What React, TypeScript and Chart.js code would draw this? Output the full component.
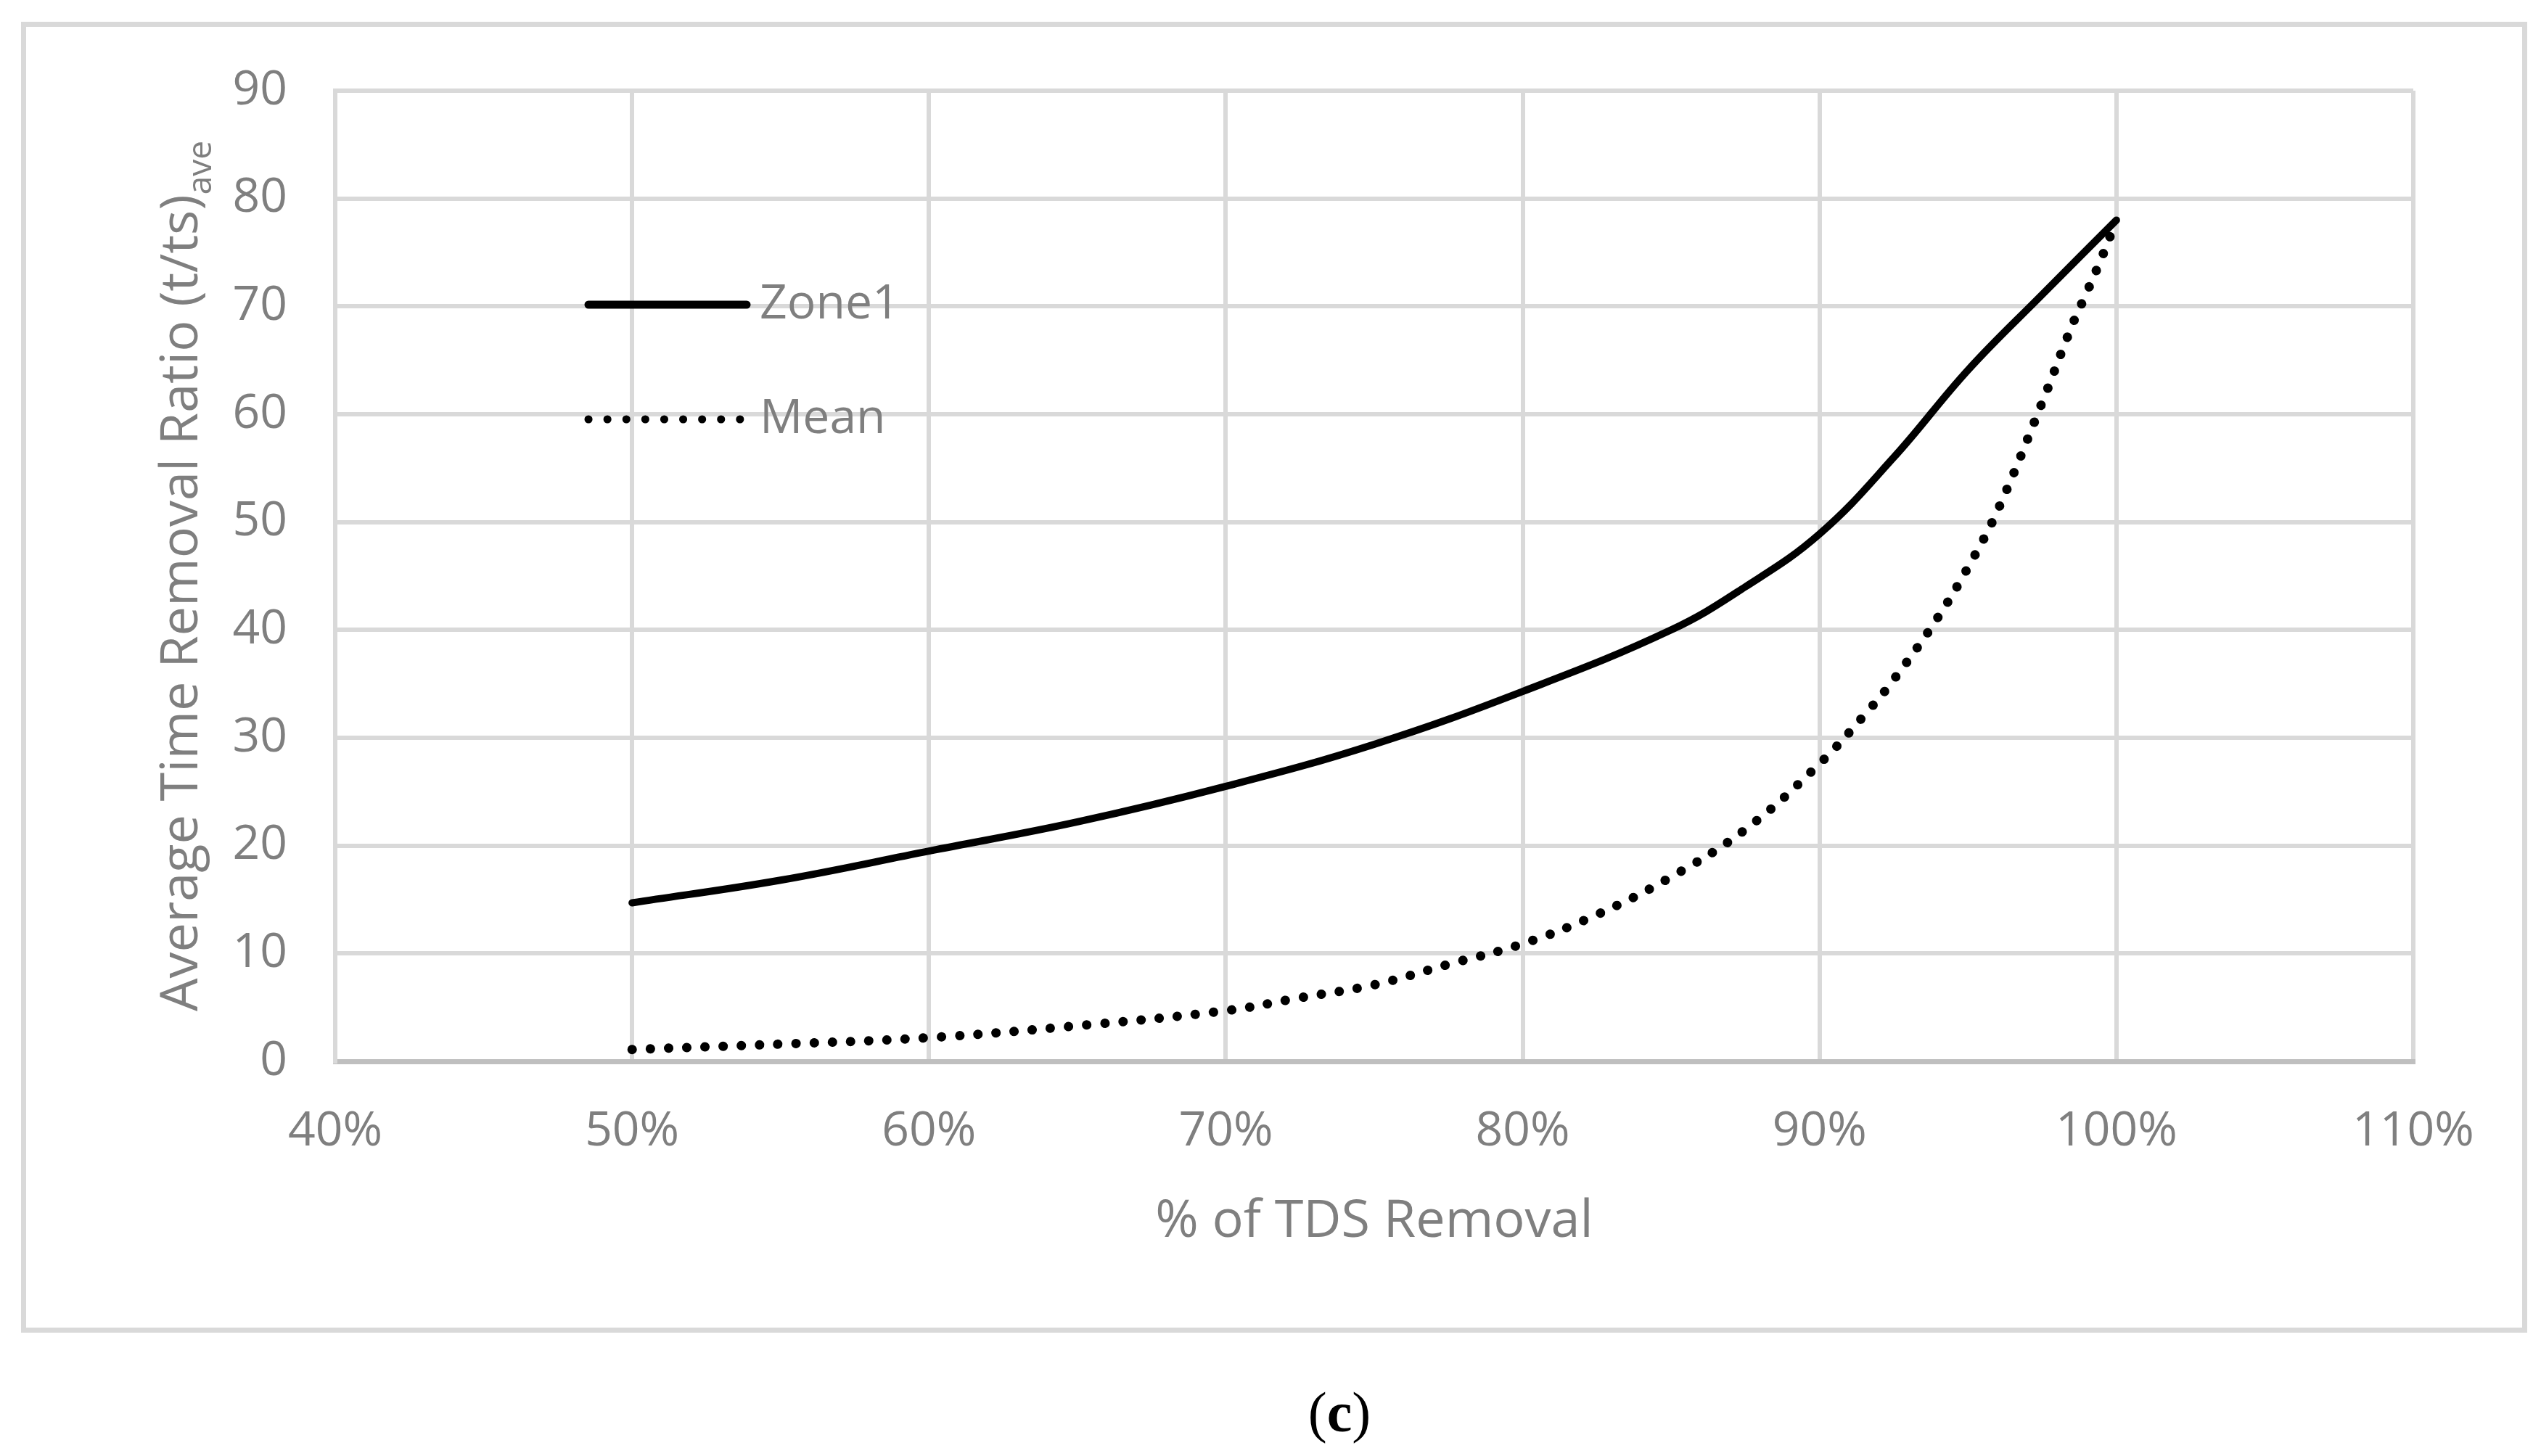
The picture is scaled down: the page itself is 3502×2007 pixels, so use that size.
import { useEffect, useRef } from "react";
import { Chart, registerables, type ChartConfiguration, type Plugin } from "chart.js";

Chart.register(...registerables);

// values (x in % of TDS removal)
const zoneX = [50, 55, 60, 65, 70, 75, 80, 85, 87.5, 90, 92.5, 95, 97.5, 100];
const zoneY = [14.7, 16.8, 19.5, 22.2, 25.5, 29.4, 34.3, 40.0, 44.0, 48.9, 56.0, 64.1, 71.1, 78.0];

const meanX = [50, 55, 60, 65, 70, 72.5, 75, 77.5, 80, 82.5, 85, 87.5, 90, 91.7, 92.5, 93.9, 95, 96, 97.5, 98.5, 99, 99.5, 100];
const meanY = [1.1, 1.6, 2.2, 3.3, 4.7, 5.9, 7.1, 9.0, 10.9, 13.6, 17.1, 21.5, 27.6, 32.7, 35.4, 40.8, 45.8, 51.1, 61.1, 68.2, 71.3, 74.5, 78.0];

const seriesLabels = ["Zone1", "Mean"];
const xTicks = [40, 50, 60, 70, 80, 90, 100, 110];
const yTicks = [0, 10, 20, 30, 40, 50, 60, 70, 80, 90];

const X_TITLE = "% of TDS Removal";
const Y_TITLE = "Average Time Removal Ratio (t/ts)";
const Y_TITLE_SUB = "ave";

const FONT = '"Open Sans", "Noto Sans", sans-serif';
const GRAY = "#7f7f7f";
const GRID = "#d9d9d9";
const AXIS = "#bfbfbf";

// axis titles (the y title carries a subscript, so both are drawn by hand)
const titlesPlugin: Plugin<"line"> = {
  id: "axisTitles",
  afterDraw(chart) {
    const { ctx, chartArea } = chart;
    ctx.save();
    ctx.fillStyle = GRAY;
    ctx.font = `72px ${FONT}`;
    ctx.textAlign = "center";
    ctx.textBaseline = "alphabetic";
    ctx.fillText(X_TITLE, (chartArea.left + chartArea.right) / 2, chartArea.bottom + 242);

    const mainW = ctx.measureText(Y_TITLE).width;
    ctx.font = `46px ${FONT}`;
    const subW = ctx.measureText(Y_TITLE_SUB).width;
    ctx.translate(chartArea.left - 190, (chartArea.top + chartArea.bottom) / 2);
    ctx.rotate(-Math.PI / 2);
    ctx.textAlign = "left";
    const start = -(mainW + subW) / 2;
    ctx.font = `72px ${FONT}`;
    ctx.fillText(Y_TITLE, start, 0);
    ctx.font = `46px ${FONT}`;
    ctx.fillText(Y_TITLE_SUB, start + mainW, 19);
    ctx.restore();
  },
};

// legend sits inside the plot area, top-left
const legendPlugin: Plugin<"line"> = {
  id: "inlineLegend",
  afterDatasetsDraw(chart) {
    const { ctx, chartArea } = chart;
    const x0 = chartArea.left + 349;
    const x1 = chartArea.left + 567;
    const rows = [chartArea.top + 295, chartArea.top + 453];
    ctx.save();
    chart.data.datasets.forEach((ds, i) => {
      const y = rows[i];
      ctx.beginPath();
      ctx.strokeStyle = "#000000";
      ctx.lineCap = "round";
      ctx.lineWidth = 11;
      ctx.setLineDash(i === 0 ? [] : [0.1, 26]);
      ctx.moveTo(x0, y);
      ctx.lineTo(i === 0 ? x1 : x1 - 9, y);
      ctx.stroke();
      ctx.setLineDash([]);
      ctx.fillStyle = GRAY;
      ctx.font = `66px ${FONT}`;
      ctx.textAlign = "left";
      ctx.textBaseline = "middle";
      ctx.fillText(String(ds.label), chartArea.left + 585, y);
    });
    ctx.restore();
  },
};

function RemovalChart() {
  const canvasRef = useRef<HTMLCanvasElement>(null);

  useEffect(() => {
    if (!canvasRef.current) return;
    const config: ChartConfiguration<"line"> = {
      type: "line",
      data: {
        datasets: [
          {
            label: seriesLabels[0],
            data: zoneX.map((x, i) => ({ x, y: zoneY[i] })),
            borderColor: "#000000",
            borderWidth: 10,
            borderCapStyle: "round",
            tension: 0.4,
            pointRadius: 0,
          },
          {
            label: seriesLabels[1],
            data: meanX.map((x, i) => ({ x, y: meanY[i] })),
            borderColor: "#000000",
            borderWidth: 13,
            borderCapStyle: "round",
            borderDash: [0.1, 25],
            tension: 0.4,
            pointRadius: 0,
          },
        ],
      },
      options: {
        animation: false,
        responsive: true,
        maintainAspectRatio: false,
        devicePixelRatio: 1,
        layout: { padding: { top: 88, right: 150, left: 0, bottom: 0 } },
        plugins: { legend: { display: false }, tooltip: { enabled: false } },
        scales: {
          x: {
            type: "linear",
            min: xTicks[0],
            max: xTicks[xTicks.length - 1],
            afterBuildTicks: (scale) => {
              scale.ticks = xTicks.map((value) => ({ value }));
            },
            afterFit: (scale) => {
              scale.height = 367;
            },
            ticks: { color: GRAY, font: { family: FONT, size: 66 }, padding: 58, maxRotation: 0, callback: (v) => `${v}%` },
            grid: { color: GRID, lineWidth: 6, drawTicks: false },
            border: { color: AXIS, width: 7 },
          },
          y: {
            min: yTicks[0],
            max: yTicks[yTicks.length - 1],
            afterBuildTicks: (scale) => {
              scale.ticks = yTicks.map((value) => ({ value }));
            },
            afterFit: (scale) => {
              scale.width = 426;
            },
            // invisible tick marks carry part of the label offset so the
            // label padding does not push the plot top down
            ticks: { color: GRAY, font: { family: FONT, size: 66 }, padding: 40 },
            grid: { color: GRID, lineWidth: 6, drawTicks: true, tickLength: 26, tickColor: "rgba(0,0,0,0)" },
            border: { color: GRID, width: 6 },
          },
        },
      },
      plugins: [titlesPlugin, legendPlugin],
    };
    const chart = new Chart(canvasRef.current, config);
    return () => chart.destroy();
  }, []);

  return (
    <div
      style={{
        position: "absolute",
        left: 29,
        top: 30,
        width: 3454,
        height: 1807,
        boxSizing: "border-box",
        border: `7px solid ${GRID}`,
        background: "#ffffff",
      }}
    >
      <div style={{ position: "relative", width: 3440, height: 1793 }}>
        <canvas ref={canvasRef} />
      </div>
    </div>
  );
}

export default function App() {
  return (
    <div style={{ position: "absolute", left: 0, top: 0, width: 3502, height: 2007, background: "#ffffff" }}>
      <RemovalChart />
      <div
        style={{
          position: "absolute",
          left: 1646,
          top: 1908,
          width: 400,
          textAlign: "center",
          fontFamily: '"Liberation Serif", "Times New Roman", serif',
          fontSize: 78,
          lineHeight: 1,
          color: "#000000",
        }}
      >
        (<b>c</b>)
      </div>
    </div>
  );
}
